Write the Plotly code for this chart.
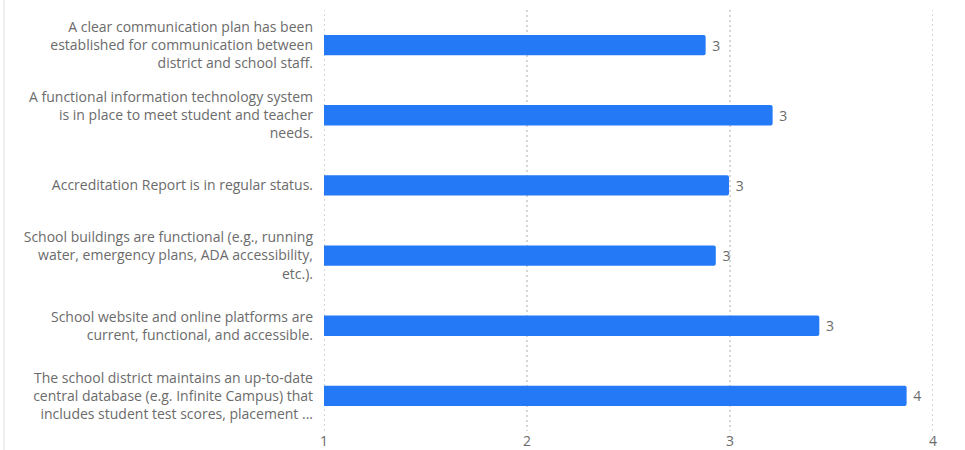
import plotly.graph_objects as go

categories = [
    "A clear communication plan has been<br>established for communication between<br>district and school staff.",
    "A functional information technology system<br>is in place to meet student and teacher<br>needs.",
    "Accreditation Report is in regular status.",
    "School buildings are functional (e.g., running<br>water, emergency plans, ADA accessibility,<br>etc.).",
    "School website and online platforms are<br>current, functional, and accessible.",
    "The school district maintains an up-to-date<br>central database (e.g. Infinite Campus) that<br>includes student test scores, placement ...",
]
values = [2.88, 3.21, 2.995, 2.93, 3.44, 3.87]
x_ticks = [1, 2, 3, 4]

FONT = "'Open Sans', sans-serif"
GRAY = "#6b6b6b"
GRID = "#d6d6d6"

fig = go.Figure(go.Bar(
    x=values,
    y=categories,
    orientation="h",
    marker=dict(color="#2479F7", line=dict(width=0)),
    width=0.29,
    text=values,
    texttemplate="\u00a0%{x:.0f}",
    textposition="outside",
    textfont=dict(size=14, color=GRAY, family=FONT),
    cliponaxis=False,
))

edge_lines = [dict(type="line", xref="x", yref="paper", layer="below",
                   x0=v, x1=v, y0=0, y1=1,
                   line=dict(color=GRID, width=2, dash="2px,3px"))
              for v in (x_ticks[0], x_ticks[-1])]

fig.update_layout(
    width=965, height=450,
    margin=dict(l=324, r=32, t=10, b=19),
    paper_bgcolor="white", plot_bgcolor="white",
    font=dict(family=FONT, size=14, color=GRAY),
    showlegend=False,
    barcornerradius=2,
    xaxis=dict(
        range=[x_ticks[0], x_ticks[-1]], tickvals=x_ticks,
        ticktext=[str(t) for t in x_ticks],
        showgrid=True, gridcolor=GRID, gridwidth=2, griddash="2px,3px",
        zeroline=False, showline=False, ticks="", automargin=False,
        tickfont=dict(size=14, color=GRAY),
    ),
    yaxis=dict(
        autorange="reversed", showgrid=False, zeroline=False, showline=False,
        ticks="", ticklabelstandoff=10, automargin=False,
        tickfont=dict(size=14, color=GRAY),
    ),
    shapes=[dict(type="line", xref="paper", yref="paper",
                 x0=-320/609, x1=-320/609, y0=-0.1, y1=1.1,
                 line=dict(color="#e0e0e0", width=1))] + edge_lines,
)

fig.write_html("out.html")
